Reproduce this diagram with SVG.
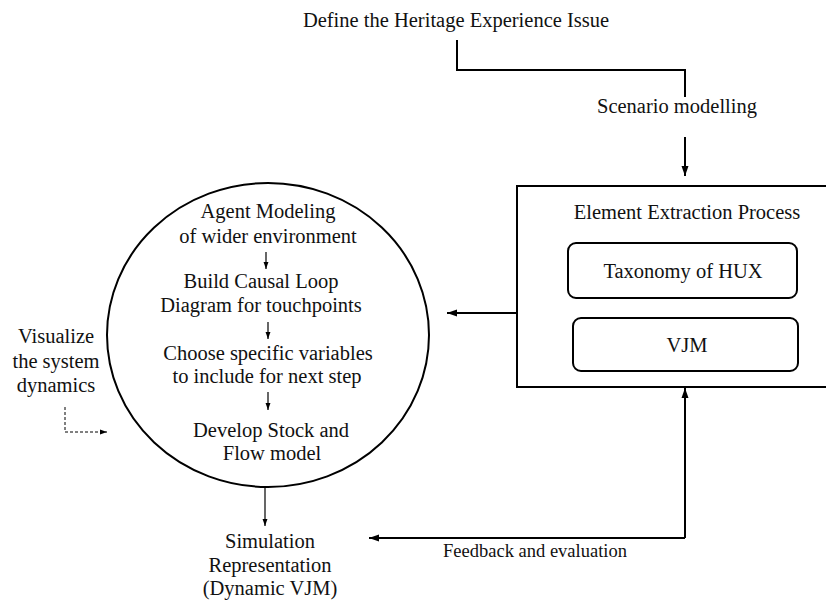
<svg xmlns="http://www.w3.org/2000/svg" width="826" height="600" viewBox="0 0 826 600">
<defs>
<style>
text{font-family:'Liberation Serif','Times New Roman',serif;fill:#111;text-anchor:middle}
.t18{font-size:20.5px}
.t14{font-size:18.5px}
.thick{fill:none;stroke:#000;stroke-width:2}
.thin{fill:none;stroke:#000;stroke-width:1.2}
.dash{fill:none;stroke:#000;stroke-width:1;stroke-dasharray:3,2}
</style>
<marker id="ah" markerUnits="userSpaceOnUse" markerWidth="10" markerHeight="10" viewBox="0 0 10 10" refX="10" refY="5" orient="auto">
<path d="M0,1.5 L10,5 L0,8.5 Z" fill="#000"/>
</marker>
<marker id="ahs" markerUnits="userSpaceOnUse" markerWidth="7" markerHeight="7" viewBox="0 0 10 10" refX="10" refY="5" orient="auto">
<path d="M0,1.5 L10,5 L0,8.5 Z" fill="#000"/>
</marker>
</defs>
<rect width="826" height="600" fill="#fff"/>

<g id="define">
<text class="t18" x="456" y="27">Define the Heritage Experience Issue</text>
</g>
<g id="scenario">
<text class="t18" x="677" y="113">Scenario modelling</text>
</g>

<g id="extraction">
<rect x="517" y="186" width="320" height="201" class="thick"/>
<text class="t18" x="687" y="219">Element Extraction Process</text>
</g>
<g id="taxonomy">
<rect x="568" y="243" width="229" height="55" rx="8" class="thick"/>
<text class="t18" x="683" y="278">Taxonomy of HUX</text>
</g>
<g id="vjm">
<rect x="573" y="318" width="225" height="53" rx="8" class="thick"/>
<text class="t18" x="687" y="352">VJM</text>
</g>

<g id="circle">
<ellipse cx="268" cy="335" rx="161" ry="152" class="thick"/>
<text class="t18" x="268" y="218">Agent Modeling</text>
<text class="t18" x="268" y="243">of wider environment</text>
<text class="t18" x="261" y="288">Build Causal Loop</text>
<text class="t18" x="261" y="312">Diagram for touchpoints</text>
<text class="t18" x="268" y="360">Choose specific variables</text>
<text class="t18" x="267" y="383">to include for next step</text>
<text class="t18" x="271" y="437">Develop Stock and</text>
<text class="t18" x="272" y="460">Flow model</text>
<line x1="266" y1="252" x2="266" y2="269" class="thin" marker-end="url(#ahs)"/>
<line x1="268" y1="322" x2="268" y2="339" class="thin" marker-end="url(#ahs)"/>
<line x1="268" y1="392" x2="268" y2="410" class="thin" marker-end="url(#ahs)"/>
</g>

<g id="simulation">
<text class="t18" x="270" y="548">Simulation</text>
<text class="t18" x="270" y="572">Representation</text>
<text class="t18" x="270" y="595">(Dynamic VJM)</text>
</g>

<g id="visualize">
<text class="t18" x="56" y="343">Visualize</text>
<text class="t18" x="56" y="368">the system</text>
<text class="t18" x="56" y="392">dynamics</text>
</g>

<g id="connectors">
<polyline points="457,40 457,70 685,70 685,97" class="thick"/>
<line x1="685" y1="137" x2="685" y2="176" class="thick" marker-end="url(#ah)"/>
<line x1="517" y1="313" x2="447" y2="313" class="thick" marker-end="url(#ah)"/>
<line x1="265" y1="487" x2="265" y2="526" class="thin" marker-end="url(#ahs)"/>
<polyline points="685,538 685,397" class="thick"/>
<polyline points="685,538 369,538" class="thick" marker-end="url(#ah)"/>
<line x1="685" y1="397" x2="685" y2="388" class="thick" marker-end="url(#ah)"/>
<polyline points="65,407 65,432 107,432" class="dash" marker-end="url(#ahs)"/>
<text class="t14" x="535" y="557">Feedback and evaluation</text>
</g>
</svg>
